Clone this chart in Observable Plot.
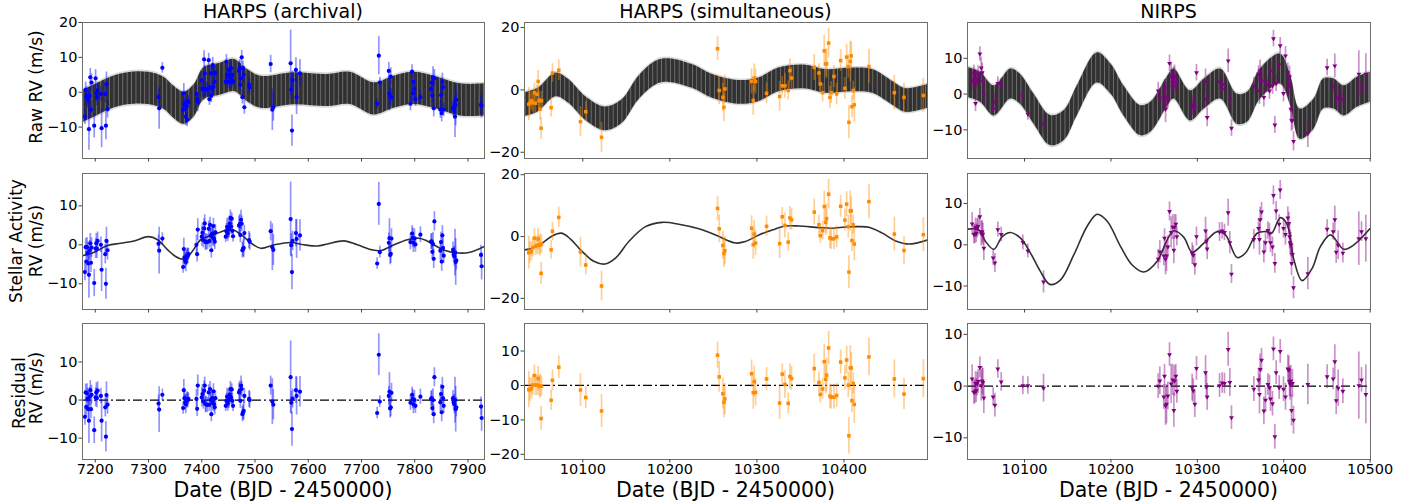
<!DOCTYPE html>
<html><head><meta charset="utf-8">
<script src="https://cdn.jsdelivr.net/npm/d3@7"></script>
<script src="https://cdn.jsdelivr.net/npm/@observablehq/plot@0.6"></script>
<style>
body{margin:0;background:#fff;}
#fig{position:relative;width:1418px;height:504px;overflow:hidden;font-family:"DejaVu Sans";}
#fig > svg{position:absolute;}
</style></head><body><div id="fig"></div>
<script>
// ---------------- DATA ----------------
const panelTitles = ["HARPS (archival)", "HARPS (simultaneous)", "NIRPS"];
const rowLabels = [["Raw RV (m/s)"], ["Stellar Activity", "RV (m/s)"], ["Residual", "RV (m/s)"]];
const xLabel = "Date (BJD - 2450000)";

const xTicks = [[7200,7300,7400,7500,7600,7700,7800,7900],[10100,10200,10300,10400],[10100,10200,10300,10400,10500]];
const yTicks = [
  [[-10,0,10,20],[-20,0,20],[-10,0,10]],
  [[-10,0,10],[-20,0,20],[-10,0,10]],
  [[-10,0,10],[-20,-10,0,10],[-10,0,10]]
];
const xDomains = [[7176,7931],[10033,10496],[10034,10500.4]];
const yDomains = [
  [[-19,20],[-22,21.6],[-18,20]],
  [[-16.6,18.3],[-23.6,20.4],[-15.7,17.3]],
  [[-15.6,20.1],[-21.5,18],[-14.2,12.1]]
];

// HARPS archival
const harpsA_t = [7180.6,7181.9,7183.0,7184.4,7185.6,7186.9,7188.1,7189.4,7190.6,7191.9,7193.0,7198.0,7200.6,7201.9,7203.0,7204.4,7210.6,7211.9,7218.8,7220.0,7221.0,7223.0,
7318.8,7320.0,7326.0,
7365.0,7366.3,7367.5,7368.8,7370.0,7371.3,7372.5,7373.8,7375.0,7390.0,7391.3,7392.5,
7400.0,7401.3,7403.0,7404.4,7405.6,7406.9,7408.0,7410.6,7413.0,7414.4,7415.6,7416.9,7418.0,7419.4,7420.6,7421.9,7423.0,7424.4,7425.6,
7445.0,7446.3,7447.5,7448.8,7450.0,7451.3,7452.5,7453.8,7455.0,7456.3,7457.5,7458.8,7470.0,7471.3,7472.5,7473.8,7475.0,7476.3,7477.5,7478.8,7480.0,7488.8,7490.0,
7529.4,7532.5,7534.4,7566.9,7568.1,7569.4,7570.6,7576.9,7578.1,7584.4,
7729.4,7732.5,7734.4,7751.3,7752.5,7753.8,7755.0,7756.3,
7791.9,7795.0,7796.3,7797.5,7799.4,7801.3,7810.6,
7830.6,7831.9,7833.0,7834.4,7835.6,7836.9,7848.1,7849.4,7850.6,7851.9,7853.0,7854.4,
7871.9,7873.0,7874.4,7875.6,7876.9,7878.0,
7924.4,7925.6];
const harpsA_raw = [-7.0,0.7,-1.4,-1.0,-1.7,-2.0,-10.6,-1.0,4.3,-5.0,2.8,-9.6,4.0,-0.3,-1.4,0.5,-0.5,-10.3,-0.5,-9.6,2.3,-4.9,
-1.4,-4.6,7.0,
-5.0,-0.3,-3.1,-3.8,-7.0,-4.1,-7.9,-2.8,-2.7,-0.5,-2.0,-2.8,
3.5,0.9,0.9,9.4,5.4,0.9,0.9,0.7,9.2,-2.0,1.4,5.4,-1.0,1.1,7.8,1.6,5.4,3.0,5.6,
3.0,8.8,5.0,3.0,4.5,6.4,5.0,3.0,6.9,3.5,5.0,3.0,6.1,6.9,2.1,4.0,10.0,-1.4,6.9,5.0,-4.3,2.1,1.4,
8.1,-5.0,-4.3,8.3,0.7,-11.0,3.5,6.4,-1.4,5.4,
-3.3,10.5,2.8,6.1,-0.3,-1.2,4.5,-1.4,
-3.3,5.9,-0.3,3.0,0.9,-2.0,-1.4,
0.9,2.8,-1.0,4.3,-4.6,4.0,-5.0,-0.8,-6.0,3.0,1.4,-5.0,
-4.6,-5.0,-4.1,-7.0,-3.6,-2.2,
-3.6,-3.9];
const harpsA_act = [-7.0,-0.6,-4.3,-0.6,-2.1,-4.8,-7.7,-1.4,0.4,-4.6,-0.7,-9.8,-1.0,0.4,-1.0,1.0,0.0,-6.4,-2.4,-10.0,1.0,-1.4,
0.3,-1.5,1.6,
-5.7,-1.1,-3.2,-4.1,-4.4,-3.4,-2.8,-2.9,-2.4,0.0,-2.4,3.9,
2.1,3.1,1.2,4.2,5.5,0.7,0.8,0.7,4.1,1.0,5.1,2.3,-1.4,2.9,1.9,4.8,1.5,0.8,3.2,
2.1,3.5,4.6,2.9,4.1,3.9,5.4,6.9,4.7,6.7,3.6,2.2,4.9,5.3,2.5,6.4,5.4,-1.4,-1.0,-0.8,3.0,1.2,0.8,
3.5,-0.6,-1.3,6.6,-0.1,-7.0,1.0,3.0,1.5,2.4,
-4.8,10.5,-1.9,0.5,1.7,-2.6,-2.3,1.6,
0.7,2.9,1.8,0.5,1.6,0.1,2.6,
0.8,0.9,-1.8,0.2,-3.6,6.0,-1.5,0.7,-4.3,2.4,-0.8,-2.8,
-1.3,-2.5,-3.0,-2.0,-4.4,-4.0,
-2.6,-5.5];
const harpsA_res = [-4.4,2.0,-1.8,1.8,0.3,-2.4,-5.4,0.9,2.6,-2.4,1.4,-7.9,0.7,2.0,0.5,2.5,1.1,-5.4,-1.9,-9.6,1.3,-1.2,
-0.9,-2.5,1.4,
-2.1,2.6,0.5,-0.6,-1.1,-0.2,0.2,0.0,0.3,0.3,-2.3,3.8,
0.7,1.6,-0.4,2.5,3.8,-1.1,-1.1,-1.3,2.0,-1.2,2.9,0.0,-3.7,0.5,-0.6,2.3,-1.1,-1.9,0.5,
-1.5,-0.2,0.9,-0.9,0.3,0.0,1.4,2.9,0.7,2.8,-0.2,-1.5,2.0,2.5,-0.2,3.8,2.9,-3.7,-3.2,-2.8,1.1,0.3,0.0,
3.8,-0.4,-1.2,6.0,-0.7,-7.6,0.4,2.6,1.1,2.2,
-3.4,11.9,-0.4,1.1,2.2,-2.2,-1.9,1.9,
-0.7,1.4,0.3,-1.1,0.0,-1.5,0.9,
0.3,0.5,-2.1,0.0,-3.7,6.0,-0.6,1.6,-3.2,3.5,0.5,-1.5,
0.5,-0.6,-1.1,0.0,-2.4,-1.9,
-1.7,-4.7];
const harpsA_err = [2.2,2.2,2.5,2.5,2.8,2.6,6.0,2.5,2.5,2.5,2.5,3.5,2.5,2.5,2.5,2.3,2.0,5.6,2.5,4.0,3.5,2.5,
2.2,6.0,1.5,
1.6,2.8,2.0,2.0,2.5,2.0,2.0,2.0,1.5,2.5,2.0,2.8,
2.5,2.5,2.0,2.5,2.2,2.2,2.0,2.0,2.0,1.8,2.0,2.0,2.0,2.0,2.2,2.0,2.0,2.0,2.0,
1.5,2.0,2.2,2.0,2.5,2.0,2.0,2.0,2.0,1.5,2.0,1.5,2.5,2.5,2.0,2.5,2.0,2.0,2.0,2.5,2.0,2.2,2.2,
2.5,6.0,4.0,9.5,3.0,4.5,2.5,3.5,5.0,4.0,
1.5,5.5,1.5,2.5,5.0,2.5,2.5,2.5,
2.0,2.0,2.5,2.5,2.5,2.0,2.0,
2.0,2.0,2.0,3.0,2.5,2.5,2.5,2.5,2.5,2.5,2.5,2.0,
2.0,2.0,2.5,6.0,6.0,2.5,
2.5,3.5];
const harpsA_gp_t = [7176,7198,7223,7248,7273,7300,7317,7336,7351,7367,7382,7398,7423,7454,7473,7495,7511,7536,7567,7592,7617,7636,7667,7692,7720,7736,7761,7786,7808,7823,7854,7882,7904,7931];
const harpsA_gp_v = [-2.8,-1.9,-0.2,0.4,1.0,2.1,1.3,-1.3,-3.0,-3.7,-1.7,1.3,2.6,4.0,2.7,0.2,-0.9,0.0,0.6,0.0,-0.3,0.2,1.0,0.0,-1.3,-1.5,0.0,1.3,1.7,1.0,-1.3,-2.1,-1.9,-0.4];
const harpsA_top_t = [7176,7200,7229,7261,7300,7329,7348,7367,7386,7404,7436,7461,7486,7511,7573,7636,7679,7723,7761,7798,7836,7886,7931];
const harpsA_top_v = [-4.1,-2.4,-0.3,1.0,1.1,-0.3,-2.9,-4.6,-2.4,2.4,3.8,4.8,1.9,0.0,1.0,0.5,1.1,-1.9,0.0,1.1,0.0,-2.2,-2.2];

// HARPS simultaneous
const harpsS_t = [10037.9,10039.1,10041.0,10042.5,10044.4,10045.6,10047.5,10048.7,10049.8,10051.0,10052.1,10052.5,10063.6,10065.1,10072.4,10097.3,10103.4,10121.5,10254.8,10256.7,10260.9,10262.1,10263.2,10293.9,10295.8,10296.9,10298.5,10311.1,10326.1,10329.1,10332.2,10336.0,10337.9,10339.8,10365.9,10371.3,10372.8,10375.5,10377.4,10379.0,10380.1,10382.4,10383.9,10385.4,10388.5,10391.6,10396.2,10401.1,10403.1,10405.0,10405.7,10407.3,10408.4,10409.2,10410.7,10411.9,10428.7,10457.9,10469.0,10491.2];
const harpsS_raw = [-4.6,-4.3,-3.5,-4.1,-0.9,-4.3,-1.4,2.7,-3.4,-6.2,-12.3,-3.5,-5.7,5.4,6.3,-10.2,-7.0,-15.2,13.2,-0.2,-2.4,-5.6,0.3,2.7,-3.4,3.8,2.7,-1.1,-2.1,1.3,1.3,-0.2,6.2,3.8,7.2,5.4,1.9,-0.9,12.5,8.3,8.4,15.0,-2.4,-0.9,4.3,-1.3,9.4,0.5,10.5,7.5,-10.4,9.1,10.9,-5.4,-0.2,-4.8,7.5,-0.9,-2.4,-1.8];
const harpsS_act = [-5.2,-5.1,-4.8,-3.6,-0.5,-3.1,-2.9,-0.8,-2.8,-2.7,-11.9,-2.4,-4.3,1.7,6.2,-5.0,-9.2,-16.0,9.1,2.5,-2.9,-5.5,-4.6,2.7,-2.6,0.8,-2.1,3.3,-2.3,6.4,3.6,-1.8,6.0,5.4,7.9,3.8,0.3,1.9,9.7,4.6,5.8,13.7,-0.4,-0.7,-0.7,-0.1,9.8,5.3,10.5,3.2,-11.5,8.3,8.3,-1.3,3.8,-2.4,11.3,0.8,-4.5,0.6];
const harpsS_res = [-1.2,-1.2,-0.9,0.1,2.9,0.1,0.1,2.0,-0.2,-0.2,-9.6,-0.2,-4.3,1.5,5.3,-1.3,-3.5,-7.4,8.8,2.5,-2.4,-4.9,-3.9,3.4,-2.1,1.1,-2.0,1.9,-5.1,3.3,0.3,-5.2,2.6,2.0,4.9,0.9,-2.6,-1.0,6.9,1.8,3.0,10.9,-3.1,-3.4,-3.4,-2.9,6.8,2.2,7.4,0.1,-14.6,5.1,5.1,-4.4,0.6,-5.5,8.3,1.9,-2.5,2.0];
const harpsS_err = [5.3,3.5,3.0,3.0,3.0,3.0,3.0,3.5,3.0,3.5,3.5,3.0,3.0,3.0,3.3,4.8,3.2,4.8,3.8,4.5,4.5,4.5,4.5,4.0,4.8,4.5,4.0,3.3,4.8,3.0,4.0,3.0,3.7,3.5,4.2,3.0,2.5,3.0,5.0,4.2,4.8,4.8,3.5,3.5,3.5,3.5,3.5,3.5,4.0,3.7,5.3,6.5,4.5,3.5,3.0,5.5,5.5,5.5,4.5,5.5];
const harpsS_gp_t = [10033.3,10041.8,10053.3,10064.8,10075.5,10085.8,10099.2,10112.6,10125.3,10137.5,10152.9,10172,10191.2,10210.3,10233.3,10252.5,10275.5,10287,10302.3,10317.6,10333,10348.3,10371.3,10386.6,10401.9,10417.2,10428.7,10444.1,10459.4,10474.7,10495.8];
const harpsS_gp_v = [-4.3,-3.8,-2.1,0.2,1.1,-0.8,-4.8,-8.0,-8.9,-7.0,-1.6,3.2,4.6,4.0,2.5,0.5,-2.1,-1.6,0.5,2.1,3.4,3.4,2.9,2.7,3.1,3.2,3.0,1.1,-1.4,-2.4,-1.1];
const harpsS_top_t = [10033,10049,10069,10084,10103,10126,10145,10164,10184,10199,10226,10249,10279,10302,10325,10356,10379,10410,10433,10456,10471,10496];
const harpsS_top_v = [-4.8,-3.2,1.6,-0.5,-5.9,-9.3,-7.0,0.5,5.4,6.2,4.3,1.1,-0.8,0.0,3.2,4.1,2.7,3.2,2.7,-1.1,-3.4,-2.1];

// NIRPS
const nirps_t = [10039.4,10041.4,10042.5,10043.3,10044.1,10045.2,10046.4,10048.3,10049.9,10051.0,10051.8,10052.9,10063.7,10065.7,10069.1,10073.0,10098.1,10103.9,10122.0,10254.7,10256.6,10261.2,10262.0,10263.2,10264.3,10265.9,10267.8,10269.7,10271.6,10272.8,10273.6,10275.1,10276.3,10294.0,10295.3,10297.1,10299.0,10309.5,10310.6,10311.4,10325.7,10328.7,10331.4,10335.7,10337.6,10339.5,10365.4,10370.8,10371.9,10372.7,10374.3,10377.0,10378.9,10381.6,10383.5,10384.7,10387.0,10388.1,10389.7,10391.2,10394.7,10395.9,10399.7,10402.0,10404.7,10405.9,10406.7,10407.4,10408.2,10409.0,10410.1,10411.3,10427.9,10450.2,10457.2,10459.1,10460.7,10463.0,10468.4,10486.9,10490.0,10495.0];
const nirps_raw = [3.9,5.8,3.7,-2.6,4.2,3.5,5.6,11.2,7.3,6.0,3.5,-0.2,-4.2,-2.0,3.0,2.6,-0.5,-5.6,-8.4,0.9,-1.1,-1.9,1.7,-4.2,-0.7,-1.4,8.6,5.1,3.0,4.2,5.1,2.3,3.3,-3.0,-3.7,-3.7,6.0,3.7,-1.4,-6.5,3.5,1.4,2.6,9.3,-1.7,-9.5,2.3,5.6,0.9,6.5,3.7,-0.9,3.3,2.6,0.9,6.5,2.3,15.5,-8.6,3.0,8.2,13.5,0.2,10.7,6.0,2.3,4.8,2.6,-4.2,-7.4,-7.3,-13.2,-11.0,7.4,2.3,7.9,-1.4,-1.1,-1.4,5.6,1.4,5.6];
const nirps_act = [5.1,2.5,2.6,4.2,2.8,4.0,4.5,6.8,2.7,3.2,2.6,-0.8,-3.2,-4.4,3.7,2.5,0.6,-1.5,-9.0,-3.5,-1.7,-2.7,1.6,-3.5,-2.7,-0.5,8.1,3.0,4.3,-1.3,4.3,5.0,2.0,-2.1,-2.5,-4.8,2.0,3.4,0.9,-1.0,3.1,3.4,3.0,7.8,0.5,-7.1,1.3,4.0,1.3,6.1,8.0,-1.7,0.5,3.5,2.8,0.5,-0.5,12.0,-4.5,8.2,5.0,13.3,4.0,2.5,6.5,5.2,2.0,0.5,0.0,-4.5,-2.3,-10.4,-7.0,3.8,3.2,6.1,-1.8,-0.1,-2.0,1.5,3.2,1.5];
const nirps_res = [1.4,-1.2,-1.1,0.5,-0.9,0.4,0.9,3.6,0.1,1.0,0.7,-2.3,-2.1,-3.7,3.3,0.8,0.1,0.1,-0.4,0.0,1.0,-2.1,1.9,-3.8,-3.5,-1.9,6.1,0.4,1.2,-4.7,1.0,1.9,-1.0,-0.3,-0.9,-3.5,3.4,2.6,-0.1,-2.1,0.1,0.6,0.5,7.1,0.7,-6.1,-0.6,1.2,-1.6,3.2,5.0,-4.8,-2.7,0.3,-0.3,-2.5,-3.4,7.2,-9.8,2.6,-0.3,6.7,-0.6,-2.1,3.3,3.1,0.9,0.3,1.0,-4.7,0.5,-6.6,0.3,1.8,1.4,4.7,-2.8,-0.4,-1.0,0.1,1.2,-1.6];
const nirps_err = [2.7,2.3,2.3,2.3,2.3,2.3,2.3,2.0,3.0,2.7,2.7,3.0,1.8,2.3,1.8,1.8,1.8,1.7,2.7,2.4,2.7,2.4,2.3,3.8,3.8,2.7,2.3,3.8,3.0,3.3,3.0,2.3,2.3,2.6,2.3,2.6,2.3,3.3,2.4,2.6,2.3,2.0,2.0,3.3,2.7,2.3,2.4,2.3,3.8,3.0,2.3,2.7,2.4,2.1,2.4,2.4,2.4,2.3,2.4,2.3,2.3,2.3,2.4,2.6,2.7,2.7,3.0,3.0,3.0,3.0,2.7,2.7,3.9,2.3,2.1,3.3,2.7,3.5,2.4,6.5,2.4,5.7];
const nirps_gp_t = [10034.4,10047.2,10054.9,10064.5,10074.2,10083.8,10095.4,10106.9,10118.5,10129.3,10141.7,10157.1,10172.5,10184.1,10195.7,10211.1,10224.6,10238.1,10253.5,10265.1,10272.8,10284.4,10294,10307.5,10323,10332.6,10346.1,10355.7,10369.2,10380.8,10386,10396.2,10404,10411.7,10421.3,10432.9,10442.5,10454.1,10469.5,10481.1,10499.6];
const nirps_gp_v = [3.8,3.6,0.8,-1.1,2.0,3.0,1.6,-2.0,-6.5,-9.6,-8.5,-2.4,4.5,7.4,5.7,-0.4,-4.9,-6.6,-4.0,1.2,3.4,1.8,-1.8,0.4,3.2,2.4,-3.1,-2.0,2.8,3.2,2.8,6.6,4.9,-3.6,-8.7,-5.7,-0.4,2.4,-1.1,0.0,3.9];
const nirps_top_t = [10034,10049,10065,10084,10095,10111,10130,10146,10161,10184,10200,10215,10234,10246,10265,10273,10292,10308,10327,10346,10358,10373,10396,10408,10419,10435,10446,10458,10470,10485,10500];
const nirps_top_v = [3.3,1.9,-1.9,2.8,1.4,-4.2,-10.2,-8.8,-1.9,7.3,4.2,-1.9,-7.4,-6.5,0.5,2.8,-3.3,0.0,2.8,-4.2,-3.7,2.8,7.0,0.9,-8.4,-5.6,0.0,0.0,-1.9,0.5,1.9];

// half thickness of the full-model band (m/s)
const topBandHalf = [4.6, 3.8, 4.2];

// ---------------- DRAWING ----------------
const instruments = [
  {t: harpsA_t, rows: [harpsA_raw, harpsA_act, harpsA_res], err: harpsA_err, gpT: harpsA_gp_t, gpV: harpsA_gp_v, topT: harpsA_top_t, topV: harpsA_top_v,
   color: "#0000ff", symbol: "circle", rot: 0, r: 2.1},
  {t: harpsS_t, rows: [harpsS_raw, harpsS_act, harpsS_res], err: harpsS_err, gpT: harpsS_gp_t, gpV: harpsS_gp_v, topT: harpsS_top_t, topV: harpsS_top_v,
   color: "#ff8c00", symbol: "square", rot: 0, r: 2.0},
  {t: nirps_t, rows: [nirps_raw, nirps_act, nirps_res], err: nirps_err, gpT: nirps_gp_t, gpV: nirps_gp_v, topT: nirps_top_t, topV: nirps_top_v,
   color: "#800080", symbol: "triangle", rot: 180, r: 1.8}
];
instruments.forEach((ins, k) => {
  const n = ins.t.length;
  [...ins.rows, ins.err].forEach((a, j) => { if (a.length !== n) throw new Error(`length mismatch instrument ${k} array ${j}: ${a.length} vs ${n}`); });
  if (ins.gpT.length !== ins.gpV.length || ins.topT.length !== ins.topV.length) throw new Error("knot mismatch " + k);
});

const fig = document.getElementById("fig");
const colX = [[82,484],[524,927],[967,1370]];
const rowY = [[22,158],[173,309],[323,459]];
const FONT = "DejaVu Sans";

// pattern for the model band
const defs = document.createElementNS("http://www.w3.org/2000/svg", "svg");
defs.setAttribute("width", 0); defs.setAttribute("height", 0);
defs.style.position = "absolute";
defs.innerHTML = `<defs><pattern id="bandStripe" patternUnits="userSpaceOnUse" width="4.4" height="8">
<rect width="4.4" height="8" fill="#7a7a7a"/><rect x="0" width="3.6" height="8" fill="#313131"/></pattern></defs>`;
fig.appendChild(defs);

for (let c = 0; c < 3; c++) {
  const ins = instruments[c];
  for (let r = 0; r < 3; r++) {
    const vals = ins.rows[r];
    const pts = ins.t.map((t, i) => ({t, v: vals[i], e: ins.err[i]}));
    const marks = [];
    if (r === 0) {
      const band = ins.topT.map((t, i) => ({t, lo: ins.topV[i] - topBandHalf[c], hi: ins.topV[i] + topBandHalf[c]}));
      marks.push(Plot.areaY(band, {x: "t", y1: d => d.lo - 0.5, y2: d => d.hi + 0.5, fill: "#dadada", curve: "catmull-rom", clip: true}));
      marks.push(Plot.areaY(band, {x: "t", y1: "lo", y2: "hi", fill: "url(#bandStripe)", curve: "catmull-rom", clip: true}));
    } else if (r === 1) {
      const gp = ins.gpT.map((t, i) => ({t, v: ins.gpV[i]}));
      marks.push(Plot.line(gp, {x: "t", y: "v", stroke: "#303030", strokeWidth: 1.6, curve: "catmull-rom", clip: true}));
    } else {
      marks.push(Plot.ruleY([0], {stroke: "#000", strokeWidth: 1.3, strokeDasharray: "9,3,2,3"}));
    }
    marks.push(Plot.ruleX(pts, {x: "t", y1: d => d.v - d.e, y2: d => d.v + d.e, stroke: ins.color, strokeOpacity: 0.42, strokeWidth: 1.7}));
    marks.push(Plot.dot(pts, {x: "t", y: "v", fill: ins.color, stroke: "none", r: ins.r, symbol: ins.symbol, rotate: ins.rot}));
    marks.push(Plot.frame({stroke: "#6e6e6e", strokeWidth: 1}));
    marks.push(Plot.axisX({ticks: xTicks[c], tickSize: 3.5, tickPadding: 0.5, stroke: "#444", fill: "#000", fontSize: 14.5,
      tickFormat: r === 2 ? (d => String(d)) : (() => ""), label: null}));
    marks.push(Plot.axisY({ticks: yTicks[r][c], tickSize: 3.5, tickPadding: 1.5, stroke: "#444", fill: "#000", fontSize: 14.5,
      tickFormat: d => d < 0 ? "\u2212" + Math.abs(d) : String(d), label: null}));

    const [x0, x1] = colX[c], [y0, y1] = rowY[r];
    const ml = 60, mr = 8, mt = 8, mb = r === 2 ? 30 : 8;
    const svg = Plot.plot({
      width: x1 - x0 + ml + mr, height: y1 - y0 + mt + mb,
      marginLeft: ml, marginRight: mr, marginTop: mt, marginBottom: mb,
      x: {domain: xDomains[c]}, y: {domain: yDomains[r][c]},
      style: {fontFamily: FONT, fontSize: "14.5px", background: "transparent", overflow: "visible"},
      marks
    });
    svg.style.position = "absolute";
    svg.style.left = (x0 - ml) + "px";
    svg.style.top = (y0 - mt) + "px";
    fig.appendChild(svg);
  }
}

// Titles and axis labels
const ov = document.createElementNS("http://www.w3.org/2000/svg", "svg");
ov.setAttribute("width", 1418); ov.setAttribute("height", 504);
ov.style.position = "absolute"; ov.style.left = "0px"; ov.style.top = "0px"; ov.style.pointerEvents = "none";
let html = "";
for (let c = 0; c < 3; c++) {
  const cx = (colX[c][0] + colX[c][1]) / 2;
  html += `<text x="${cx}" y="18" text-anchor="middle" font-family="${FONT}" font-size="19">${panelTitles[c]}</text>`;
  html += `<text x="${cx}" y="497" text-anchor="middle" font-family="${FONT}" font-size="20.5">${xLabel}</text>`;
}
const labelX = [[35.5], [16, 36], [18.5, 36]];
const labelDy = [[-3], [0, 0], [2, -3]];
for (let r = 0; r < 3; r++) {
  const cy = (rowY[r][0] + rowY[r][1]) / 2;
  rowLabels[r].forEach((s, j) => {
    const x = labelX[r][j];
    html += `<text transform="translate(${x},${cy + labelDy[r][j]}) rotate(-90)" text-anchor="middle" dominant-baseline="central" font-family="${FONT}" font-size="17">${s}</text>`;
  });
}
ov.innerHTML = html;
fig.appendChild(ov);
</script>
</body></html>
